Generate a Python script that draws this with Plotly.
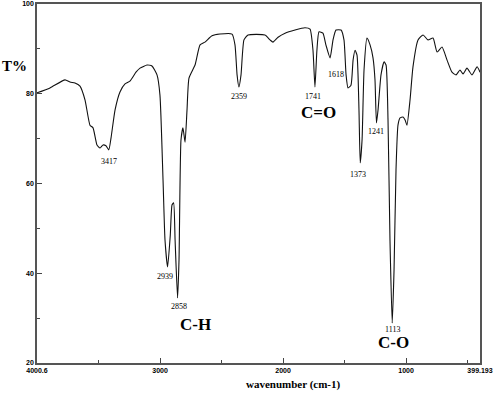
import plotly.graph_objects as go

wavenumber = [4000, 3895, 3773, 3732, 3692, 3651, 3610, 3570, 3545, 3513, 3488, 3464, 3440, 3417,
              3399, 3366, 3326, 3285, 3245, 3196, 3163, 3106, 3066, 3025, 3001, 2976, 2960, 2939,
              2917, 2903, 2890, 2878, 2858, 2846, 2830, 2814, 2797, 2781, 2765, 2716, 2675, 2635,
              2578, 2513, 2415, 2391, 2374, 2359, 2342, 2318, 2285, 2147, 2106, 2082, 2041, 1984,
              1903, 1822, 1781, 1757, 1741, 1725, 1708, 1676, 1652, 1618, 1594, 1570, 1529, 1505,
              1488, 1472, 1448, 1431, 1415, 1399, 1383, 1373, 1358, 1342, 1318, 1293, 1269, 1253,
              1241, 1228, 1204, 1179, 1163, 1147, 1131, 1113, 1098, 1082, 1066, 1049, 1025, 1009,
              993, 968, 944, 903, 862, 822, 781, 748, 708, 667, 627, 594, 562, 537, 505, 464, 423, 399]
transmittance = [80.2, 81.3, 83.1, 82.6, 82.4, 81.7, 78.6, 73.0, 72.4, 68.6, 67.9, 68.6, 68.4, 67.5,
                 70.1, 76.4, 80.4, 82.2, 82.8, 84.8, 85.7, 86.4, 86.2, 84.2, 79.7, 60.8, 47.4, 41.4,
                 48.5, 55.2, 55.7, 47.4, 34.5, 43.0, 69.7, 72.4, 69.2, 76.4, 83.5, 86.4, 90.9, 91.5,
                 92.9, 93.3, 93.3, 90.9, 84.2, 81.5, 84.2, 92.0, 93.1, 93.1, 92.0, 91.5, 92.6, 93.5,
                 94.2, 94.7, 94.4, 89.7, 81.5, 89.7, 93.8, 93.5, 90.9, 88.0, 92.0, 94.2, 94.2, 92.0,
                 84.2, 81.3, 81.9, 87.5, 89.7, 88.6, 76.4, 64.6, 69.7, 85.3, 92.4, 90.9, 88.0, 83.1,
                 73.5, 76.4, 84.2, 87.1, 86.4, 74.2, 47.4, 28.9, 40.7, 63.0, 73.0, 74.6, 74.8, 74.2,
                 73.0, 78.6, 86.0, 92.0, 93.1, 92.0, 92.4, 89.3, 90.4, 87.5, 84.8, 84.2, 85.3, 84.4,
                 85.7, 84.2, 86.0, 84.8]

peak_labels = ["3417", "2939", "2858", "2359", "1741", "1618", "1373", "1241", "1113"]
peak_label_x = [3417, 2956, 2850, 2359, 1757, 1570, 1391, 1241, 1113]
peak_label_y = [65.0, 39.2, 32.5, 79.3, 79.3, 84.2, 61.9, 71.5, 27.4]

group_labels = ["C-H", "C=O", "C-O"]
group_x = [2716, 1716, 1106]
group_y = [28.5, 75.9, 24.5]

x_tickvals = [4000.6, 3000, 2000, 1000, 399.193]
x_ticktext = ["4000.6", "3000", "2000", "1000", "399.193"]
x_minor = [3500, 2500, 1500, 500]
y_tickvals = [20, 40, 60, 80, 100]
y_minor = [30, 50, 70, 90]

fig = go.Figure()
fig.add_trace(go.Scatter(x=wavenumber, y=transmittance, mode="lines",
                         line=dict(color="#111111", width=1.1, shape="spline", smoothing=0.5),
                         hoverinfo="skip", showlegend=False))

for t, x, y in zip(peak_labels, peak_label_x, peak_label_y):
    fig.add_annotation(x=x, y=y, text=t, showarrow=False,
                       font=dict(family="Liberation Serif", size=8, color="#000000"))
for t, x, y in zip(group_labels, group_x, group_y):
    fig.add_annotation(x=x, y=y, text=t, showarrow=False,
                       font=dict(family="Liberation Serif", size=17, color="#000000", weight="bold"))

fig.add_annotation(xref="paper", yref="paper", x=-0.083, y=0.826, text="T%", showarrow=False,
                   xanchor="left", yanchor="middle",
                   font=dict(family="Liberation Serif", size=15, color="#000000", weight="bold"))
fig.add_annotation(xref="paper", yref="paper", x=0.578, y=-0.061, yanchor="middle",
                   text="wavenumber (cm-1)", showarrow=False,
                   font=dict(family="Liberation Serif", size=11, color="#000000", weight="bold"))

axis_common = dict(showline=True, linecolor="#555555", linewidth=1.5, mirror=True,
                   showgrid=False, zeroline=False, ticks="inside", tickcolor="#444444",
                   ticklen=5, tickwidth=1, automargin=False,
                   tickfont=dict(family="Liberation Sans", size=7, color="#000000", weight="bold"))

fig.update_xaxes(range=[4000.6, 399.193], tickmode="array", tickvals=x_tickvals, ticktext=x_ticktext,
                 minor=dict(tickmode="array", tickvals=x_minor, ticks="inside", ticklen=3,
                            tickcolor="#444444"),
                 **axis_common)
fig.update_yaxes(range=[20, 100], tickmode="array", tickvals=y_tickvals,
                 minor=dict(tickmode="array", tickvals=y_minor, ticks="inside", ticklen=3,
                            tickcolor="#444444"),
                 **axis_common)

fig.update_layout(width=496, height=394, margin=dict(l=37, r=16, t=4, b=31),
                  plot_bgcolor="white", paper_bgcolor="white")

fig.write_html("out.html", config={"displayModeBar": False},
               post_script="document.body.style.margin='0px';")
